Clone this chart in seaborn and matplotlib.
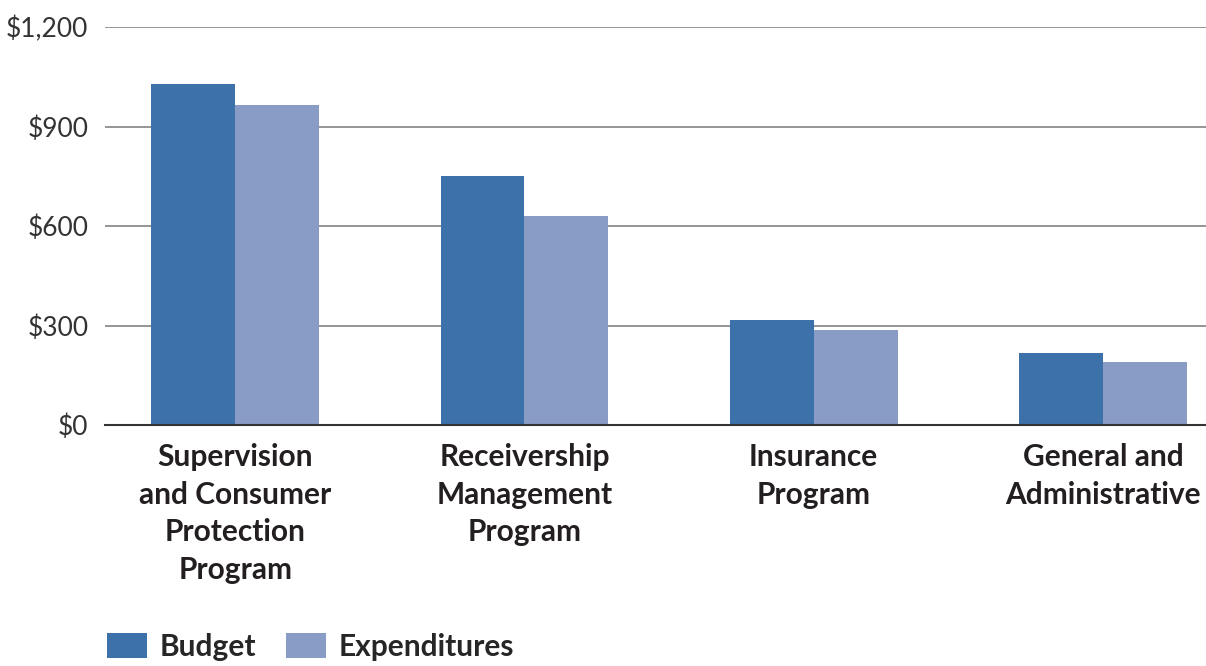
import matplotlib
matplotlib.use("Agg")
import matplotlib.pyplot as plt
import seaborn as sns
import pandas as pd
from matplotlib.patches import Patch

categories = ["Supervision\nand Consumer\nProtection\nProgram",
              "Receivership\nManagement\nProgram",
              "Insurance\nProgram",
              "General and\nAdministrative"]
budget = [1029, 751, 317, 217]
expenditures = [966, 631, 287, 190]
series = ["Budget", "Expenditures"]
yticks = [0, 300, 600, 900, 1200]
ytick_labels = ["$0", "$300", "$600", "$900", "$1,200"]
colors = ["#3D71A9", "#899CC5"]

df = pd.DataFrame({
    "category": categories * 2,
    "series": [series[0]] * 4 + [series[1]] * 4,
    "value": budget + expenditures,
})

sns.set_theme(style="white")
FAM = ["Lato", "DejaVu Sans"]
plt.rcParams["font.family"] = FAM

fig = plt.figure(figsize=(12.06, 6.66), dpi=100)
ax = fig.add_axes([105 / 1206, 1 - 425 / 666, 1 - 105 / 1206, (425 - 27) / 666])

sns.barplot(data=df, x="category", y="value", hue="series", palette=colors,
            order=categories, hue_order=series, width=0.58, saturation=1,
            dodge=True, ax=ax, legend=False, linewidth=0)

ax.set_ylim(0, 1200)
ax.set_xlim(-0.45, 3.356)
ax.set_yticks(yticks)
ax.set_yticklabels(ytick_labels, fontsize=19, color="#333333", family=FAM)
ax.tick_params(axis="y", length=0, pad=12)
ax.tick_params(axis="x", length=0, pad=13)
for lbl in ax.get_xticklabels():
    lbl.set_fontsize(21.5)
    lbl.set_fontweight("bold")
    lbl.set_color("#231F20")
    lbl.set_linespacing(1.42)
    lbl.set_verticalalignment("top")
ax.set_xlabel("")
ax.set_ylabel("")
ax.yaxis.grid(True, color="#8C8C8C", linewidth=1.3)
ax.set_axisbelow(True)
for s in ["top", "right", "left"]:
    ax.spines[s].set_visible(False)
ax.spines["bottom"].set_color("#333333")
ax.spines["bottom"].set_linewidth(1.5)

handles = [Patch(facecolor=c, edgecolor="none") for c in colors]
fig.legend(handles, series, loc="lower left", bbox_to_anchor=(80 / 1206, -22 / 666),
           ncol=2, frameon=False, handlelength=1.33, handleheight=0.9,
           handletextpad=0.43, columnspacing=1.0,
           prop={"size": 21.5, "weight": "bold", "family": FAM})

fig.savefig("out.png", dpi=100)
